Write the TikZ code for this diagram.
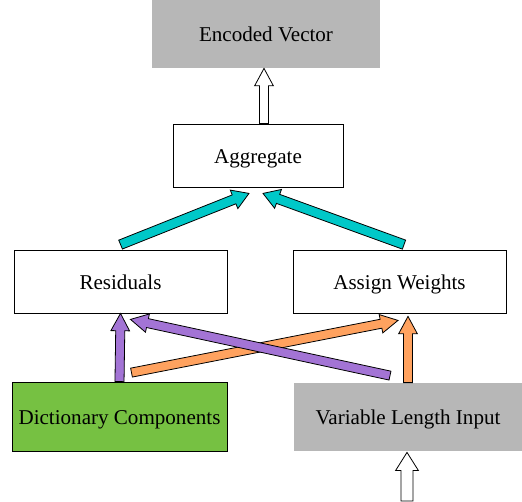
\documentclass[tikz,border=0pt]{standalone}
\usepackage{fontspec}
\setmainfont{Liberation Serif}
\usetikzlibrary{calc, positioning}

\definecolor{boxgray}{HTML}{B7B7B7}
\definecolor{dictgreen}{HTML}{76C142}
\definecolor{aggcyan}{HTML}{00C8C8}
\definecolor{respurple}{HTML}{A374D5}
\definecolor{wtorange}{HTML}{FFA25F}

% block arrow: fill, from, to, half shaft, half head, head length
\newcommand{\blockarrow}[6]{%
    \draw[fill=#1, line width=0.6pt, line join=miter] let \p1=($(#3)-(#2)$), \n1={atan2(\y1,\x1)}, \n2={veclen(\x1,\y1)} in
        ($(#2)+(\n1+90:#4)$) -- ++(\n1:\n2-#6) -- ++(\n1+90:#5-#4) -- (#3)
        -- ($(#3)+(\n1+180:#6)+(\n1-90:#5)$) -- ++(\n1+90:#5-#4) -- ++(\n1+180:\n2-#6) -- cycle;
}

\tikzset{
    box/.style={draw, line width=0.6pt, inner sep=0pt, minimum width=159.75pt, minimum height=47.25pt,
        text height=11.5pt, text depth=0pt, font=\fontsize{15.8}{18}\selectfont},
    graybox/.style={box, draw=none, fill=boxgray, minimum width=171pt, minimum height=51pt},
}

\begin{document}
\begin{tikzpicture}[x=0.75pt, y=-0.75pt]
        \useasboundingbox (0,0) rectangle (522,501);

        % Boxes
        \node[graybox] (encoded) at (266,34) {Encoded Vector};
        \node[box, minimum width=127.5pt] (aggregate) at (258,155.5) {Aggregate};
        \node[box] (residuals) at (120.5,281.5) {Residuals};
        \node[box] (weights) at (399.5,281.5) {Assign Weights};
        \node[box, fill=dictgreen, minimum width=161.25pt, minimum height=51.75pt] (dict) at (119.5,416.5) {Dictionary Components};
        \node[graybox] (input) at (408,417) {Variable Length Input};

        % Free ends
        \coordinate (feed) at (407,501);

        % Arrows
        \blockarrow{white}{feed}{$(input.south)+(-1,1)$}{4.5pt}{8.5pt}{13.5pt}
        \blockarrow{wtorange}{input.north}{$(input.north |- weights.south)+(0,3)$}{3.4pt}{7pt}{13pt}
        \blockarrow{wtorange}{$(dict.north)+(12,-9)$}{$(weights.south)+(-1.5,7)$}{3.4pt}{7pt}{13pt}
        \blockarrow{respurple}{dict.north}{residuals.south}{3.4pt}{7pt}{13pt}
        \blockarrow{respurple}{$(input.north)+(-18,-7)$}{$(residuals.south)+(10,6)$}{3.4pt}{7pt}{13pt}
        \blockarrow{aggcyan}{$(residuals.north)+(0,-5)$}{$(aggregate.south)+(-9,6)$}{3.6pt}{7.5pt}{12pt}
        \blockarrow{aggcyan}{$(weights.north)+(4.5,-5)$}{$(aggregate.south)+(5,6)$}{3.6pt}{7.5pt}{12pt}
        \blockarrow{white}{$(aggregate.north)+(6,0)$}{$(encoded.south)+(-2,0)$}{3.4pt}{7pt}{13pt}

    \end{tikzpicture}
\end{document}
